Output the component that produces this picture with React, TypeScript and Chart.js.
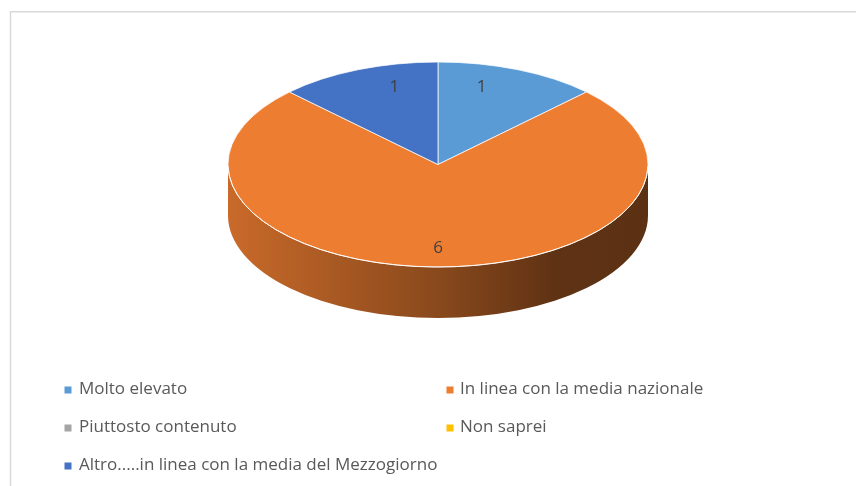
import React, { useEffect, useRef } from "react";
import { Chart, registerables } from "chart.js";

Chart.register(...registerables);

const categories = [
  "Molto elevato",
  "In linea con la media nazionale",
  "Piuttosto contenuto",
  "Non saprei",
  "Altro.....in linea con la media del Mezzogiorno",
];
const values = [1, 6, 0, 0, 1];
const colors = ["#5B9BD5", "#ED7D31", "#A5A5A5", "#FFC000", "#4472C4"];

const W = 856;
const H = 486;
const TOP = { cx: 438, cy: 164.5, rx: 210, ry: 102.5, depth: 51 };
const LEGEND = {
  markerX: [64.5, 446.5],
  textX: [79, 460],
  rowY: [389, 427, 465],
  box: 7,
  font: "17px 'Open Sans'",
  color: "#595959",
};

function shade(hex: string, f: number) {
  const n = parseInt(hex.slice(1), 16);
  const r = Math.round(((n >> 16) & 255) * f);
  const g = Math.round(((n >> 8) & 255) * f);
  const b = Math.round((n & 255) * f);
  return `rgb(${r},${g},${b})`;
}

const framePlugin = {
  id: "frame",
  beforeDraw(chart: any) {
    const ctx = chart.ctx;
    ctx.save();
    ctx.fillStyle = "#ffffff";
    ctx.fillRect(0, 0, W, H);
    ctx.strokeStyle = "#d9d9d9";
    ctx.lineWidth = 1.5;
    ctx.strokeRect(10.5, 11.75, 1000, 1000);
    ctx.restore();
  },
};

const pie3dPlugin = {
  id: "pie3d",
  beforeDatasetsDraw(chart: any) {
    const ctx = chart.ctx;
    const meta = chart.getDatasetMeta(0);
    const arcs = meta.data as any[];
    if (!arcs.length) return;
    const { cx, cy, rx, ry, depth } = TOP;
    // side walls (front half only)
    ctx.save();
    arcs.forEach((arc, i) => {
      const s0 = arc.startAngle;
      const e0 = arc.endAngle;
      if (e0 - s0 <= 1e-6) return;
      for (let k = -1; k <= 1; k++) {
        const off = k * 2 * Math.PI;
        const s = Math.max(s0, off);
        const e = Math.min(e0, off + Math.PI);
        if (e <= s) continue;
        const base = colors[i];
        const grad = ctx.createLinearGradient(cx - rx, 0, cx + rx, 0);
        grad.addColorStop(0, shade(base, 0.85));
        grad.addColorStop(0.5, shade(base, 0.58));
        grad.addColorStop(0.78, shade(base, 0.4));
        grad.addColorStop(1, shade(base, 0.39));
        ctx.beginPath();
        ctx.ellipse(cx, cy, rx, ry, 0, s - off, e - off, false);
        ctx.ellipse(cx, cy + depth, rx, ry, 0, e - off, s - off, true);
        ctx.closePath();
        ctx.fillStyle = grad;
        ctx.fill();
      }
    });
    ctx.restore();
    // flatten the top face
    const a0 = arcs[0];
    const R = a0.outerRadius;
    ctx.save();
    ctx.translate(cx, cy);
    ctx.scale(rx / R, ry / R);
    ctx.translate(-a0.x, -a0.y);
  },
  afterDatasetsDraw(chart: any) {
    const ctx = chart.ctx;
    ctx.restore();
    const meta = chart.getDatasetMeta(0);
    const arcs = meta.data as any[];
    const { cx, cy, rx, ry } = TOP;
    // light rim along the front edge
    ctx.save();
    ctx.strokeStyle = "rgba(255,255,255,0.85)";
    ctx.lineWidth = 1;
    ctx.beginPath();
    ctx.ellipse(cx, cy, rx, ry, 0, 0.02, Math.PI - 0.02, false);
    ctx.stroke();
    ctx.restore();
    // value labels
    ctx.save();
    ctx.font = "17px 'Open Sans'";
    ctx.fillStyle = "#404040";
    ctx.textAlign = "center";
    ctx.textBaseline = "middle";
    arcs.forEach((arc, i) => {
      const v = values[i];
      if (!v) return;
      const mid = (arc.startAngle + arc.endAngle) / 2;
      const ux = Math.cos(mid);
      const uy = Math.sin(mid);
      let dx = rx * 0.82 * ux;
      const dy = ry * 0.82 * uy;
      if (uy < 0) dx = dx / (1 + 0.55 * -uy);
      ctx.fillText(String(v), cx + dx, cy + dy);
    });
    ctx.restore();
  },
};

const legendPlugin = {
  id: "legendCols",
  afterDraw(chart: any) {
    const ctx = chart.ctx;
    const labels = chart.data.labels as string[];
    const bg = chart.data.datasets[0].backgroundColor as string[];
    ctx.save();
    ctx.font = LEGEND.font;
    ctx.textBaseline = "middle";
    ctx.textAlign = "left";
    labels.forEach((lab, i) => {
      const col = i % 2;
      const row = Math.floor(i / 2);
      const y = LEGEND.rowY[row];
      ctx.fillStyle = bg[i];
      ctx.fillRect(LEGEND.markerX[col], y - LEGEND.box / 2 + 1, LEGEND.box, LEGEND.box);
      ctx.fillStyle = LEGEND.color;
      ctx.fillText(lab, LEGEND.textX[col], y);
    });
    ctx.restore();
  },
};

export default function App() {
  const ref = useRef<HTMLCanvasElement | null>(null);
  useEffect(() => {
    if (!ref.current) return;
    const chart = new Chart(ref.current, {
      type: "pie",
      data: {
        labels: categories,
        datasets: [
          {
            data: values,
            backgroundColor: colors,
            borderColor: "#ffffff",
            borderWidth: 1,
          },
        ],
      },
      options: {
        responsive: false,
        animation: false,
        events: [],
        layout: { padding: { left: 227, right: 208, top: 32, bottom: 33 } },
        plugins: {
          legend: { display: false },
          tooltip: { enabled: false },
          title: { display: false },
        },
      },
      plugins: [framePlugin, pie3dPlugin, legendPlugin],
    });
    return () => chart.destroy();
  }, []);
  return (
    <div style={{ position: "absolute", left: 0, top: 0, width: W, height: H, background: "#fff" }}>
      <canvas ref={ref} width={W} height={H} style={{ display: "block" }} />
    </div>
  );
}
